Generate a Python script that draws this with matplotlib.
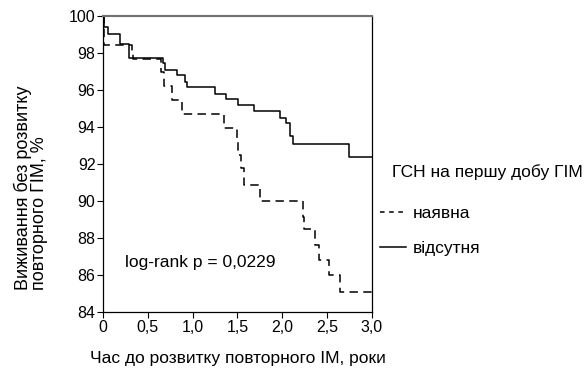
import matplotlib.pyplot as plt
from matplotlib.lines import Line2D

plt.rcParams['font.family'] = ['Liberation Sans', 'DejaVu Sans']

# ГСН присутня (dashed)
t_present = [0, 0.01, 0.32, 0.34, 0.645, 0.68, 0.77, 0.88, 1.345, 1.49, 1.51,
             1.54, 1.57, 1.75, 2.23, 2.24, 2.36, 2.41, 2.52, 2.64, 3.0]
s_present = [100, 98.45, 98.05, 97.7, 97.0, 96.2, 95.45, 94.7, 93.95, 93.2, 92.5,
             91.8, 90.85, 90.0, 89.15, 88.5, 87.6, 86.8, 86.0, 85.1, 85.1]

# ГСН відсутня (solid)
t_absent = [0, 0.01, 0.06, 0.19, 0.29, 0.67, 0.69, 0.82, 0.92, 0.94, 1.25, 1.37,
            1.51, 1.68, 1.97, 2.04, 2.09, 2.12, 2.75, 3.0]
s_absent = [100, 99.4, 99.05, 98.5, 97.75, 97.45, 97.1, 96.8, 96.45, 96.15, 95.8,
            95.5, 95.2, 94.85, 94.5, 94.2, 93.5, 93.1, 92.4, 92.4]

x_ticks = [0, 0.5, 1.0, 1.5, 2.0, 2.5, 3.0]
x_labels = ['0', '0,5', '1,0', '1,5', '2,0', '2,5', '3,0']
y_ticks = [84, 86, 88, 90, 92, 94, 96, 98, 100]

dash = (0, (5.5, 3.5))

fig = plt.figure(figsize=(5.87, 3.75), dpi=100)
ax = fig.add_axes([0.1755, 0.168, 0.458, 0.789])

ax.step(t_present, s_present, where='post', color='black', lw=1.1, ls=dash)
ax.step(t_absent, s_absent, where='post', color='black', lw=1.1)

ax.set_xlim(0, 3.0)
ax.set_ylim(84, 100)
ax.set_xticks(x_ticks)
ax.set_xticklabels(x_labels)
ax.set_yticks(y_ticks)
ax.tick_params(labelsize=11.5, length=4, width=0.8, pad=1.5)

for side in ['left', 'bottom', 'right']:
    ax.spines[side].set_linewidth(0.9)
ax.spines['top'].set_color('#707070')
ax.spines['top'].set_linewidth(1.5)

ax.set_ylabel('Виживання без розвитку\nповторного ГІМ, %', fontsize=13,
              linespacing=0.95, multialignment='left')
ax.yaxis.set_label_coords(-0.205, 0.419)
ax.set_xlabel('Час до розвитку повторного ІМ, роки', fontsize=12.5, labelpad=12)

ax.text(0.24, 86.65, 'log-rank p = 0,0229', fontsize=12.5, ha='left', va='center')

fig.text(0.668, 0.541, 'ГСН на першу добу ГІМ', fontsize=12.5, ha='left', va='center')
handles = [Line2D([], [], color='black', lw=1.1, ls=(0, (3, 3))),
           Line2D([], [], color='black', lw=1.1)]
fig.legend(handles, ['наявна', 'відсутня'], loc='upper left',
           bbox_to_anchor=(0.6215, 0.492), frameon=False, fontsize=12.5,
           handlelength=1.45, handletextpad=0.4, labelspacing=1.12)

fig.savefig('out.png', dpi=100)
